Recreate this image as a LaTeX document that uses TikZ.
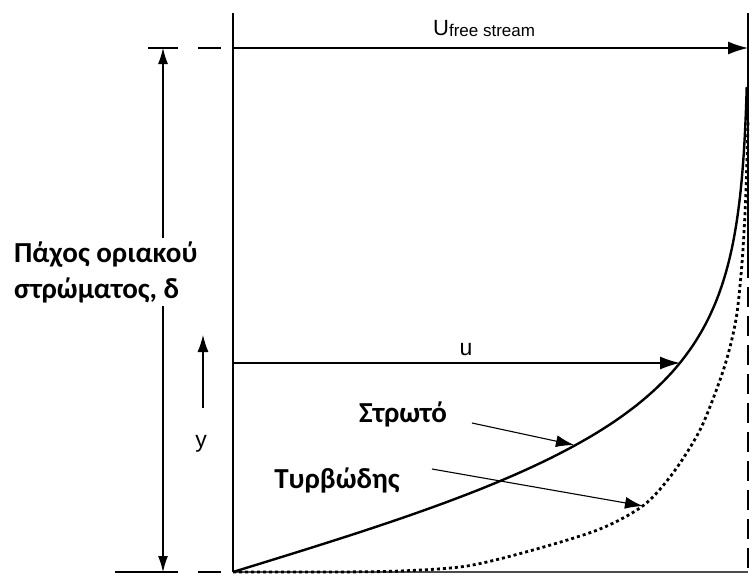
\documentclass[tikz,border=0pt]{standalone}
\usepackage{fontspec}
\setmainfont{Carlito}
\newfontfamily\sansfont{Liberation Sans}
\usetikzlibrary{arrows.meta}

\begin{document}
\begin{tikzpicture}[x=1pt,y=-1pt,
    wall/.style={line width=2.6pt},
    edge/.style={line width=1.8pt},
    guide/.style={line width=1.3pt},
    bigvec/.style={line width=1.3pt,-{Latex[length=20pt,width=13pt]}},
    smallvec/.style={line width=1.1pt,-{Latex[length=18pt,width=12pt]}},
    laminar/.style={line width=2.4pt},
    turbulent/.style={line width=2.8pt,dash pattern=on 3pt off 3pt},
    greek/.style={font=\fontsize{29}{36}\selectfont\bfseries},
    sym/.style={font=\sansfont\fontsize{23}{23}\selectfont,inner sep=0pt}]
    \useasboundingbox (0,0) rectangle (755,574);

    % Anchor points
    \coordinate (wallTop) at (233,13);
    \coordinate (wallBot) at (233,572);
    \coordinate (edgeTop) at (748,13);
    \coordinate (edgeMid) at (748,258);
    \coordinate (edgeBot) at (748,572);
    \coordinate (freeStart) at (233,48);
    \coordinate (freeEnd) at (748,48);
    \coordinate (uStart) at (233,363);
    \coordinate (uEnd) at (680,363);
    \coordinate (deltaTop) at (163,48);
    \coordinate (deltaBot) at (163,572);
    \coordinate (yFrom) at (203,408);
    \coordinate (yTo) at (203,335);

    % Wall, edge and floor
    \draw[wall] (wallTop) -- (wallBot);
    \draw[edge] (edgeTop) -- (edgeMid);
    \draw[edge, dash pattern=on 20pt off 9pt] (edgeMid) -- (edgeBot);
    \draw[guide, black!70] (wallBot) -- (edgeBot);

    % Extension ticks
    \draw[guide] (148,48) -- (178,48);
    \draw[guide] (198,48) -- (221,48);
    \draw[guide] (115,572) -- (178,572);
    \draw[guide] (198,572) -- (221,572);

    % Thickness and height arrows
    \draw[line width=1.2pt, {Latex[length=16pt,width=10pt]}-{Latex[length=16pt,width=10pt]}] (deltaTop) -- (deltaBot);
    \draw[line width=1.1pt, -{Latex[length=17pt,width=11pt]}] (yFrom) -- (yTo);
    \node[sym, anchor=base] (yLabel) at (201,447) {y};

    \node[greek, align=left, fill=white, anchor=west, inner sep=3pt] (deltaLabel) at (11,272)
        {Πάχος οριακού\\στρώματος, δ};

    % Velocity vectors
    \draw[bigvec] (freeStart) -- (freeEnd);
    \node[anchor=base west, inner sep=0pt] (freeLabel) at (433,35)
        {\sansfont\fontsize{22}{22}\selectfont U\fontsize{17}{17}\selectfont\raisebox{-1pt}{free stream}};
    \draw[bigvec] (uStart) -- (uEnd);
    \node[sym, anchor=base] (uLabel) at (466,355) {u};

    % Laminar profile
    \draw[laminar] plot[domain=0:485, samples=120, variable=\t]
        ({233+516*tanh(0.0063*\t)}, {572-\t});

    % Turbulent profile
    \draw[turbulent] plot[smooth] coordinates {
        (233,572) (330,572) (400,571) (467,566) (533,550) (600,529)
        (644,505) (673,473) (700,430) (720,380) (730,347) (737,313)
        (742,263) (745,213) (747,160) (748,120)};

    % Labels with pointers
    \node[greek] (lamLabel) at (403,414) {Στρωτό};
    \coordinate (lamFrom) at (472,423);
    \coordinate (lamTip) at (574,445);
    \draw[smallvec] (lamFrom) -- (lamTip);

    \node[greek] (turbLabel) at (337,480) {Τυρβώδης};
    \coordinate (turbFrom) at (432,469);
    \coordinate (turbTip) at (643,506);
    \draw[smallvec] (turbFrom) -- (turbTip);
\end{tikzpicture}
\end{document}
